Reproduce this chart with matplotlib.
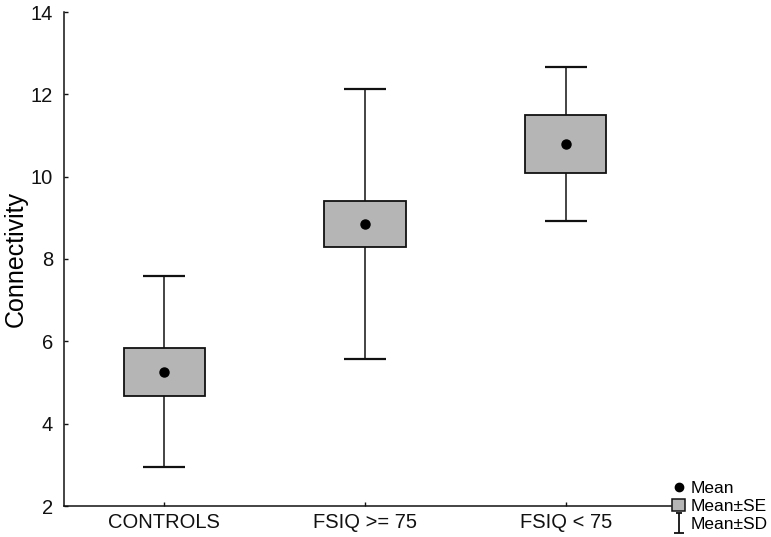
import numpy as np
import matplotlib
matplotlib.use("Agg")
import matplotlib.pyplot as plt
from matplotlib.lines import Line2D
from matplotlib.patches import Patch
from matplotlib.path import Path

plt.rcParams["font.family"] = ["Liberation Sans", "DejaVu Sans"]

groups = ["CONTROLS", "FSIQ >= 75", "FSIQ < 75"]
means = [5.26, 8.85, 10.79]
se = [0.58, 0.57, 0.71]
sd = [2.32, 3.29, 1.87]

box_color = "#b5b5b5"
x = np.arange(1, len(groups) + 1)
means = np.array(means)
se = np.array(se)

fig = plt.figure(figsize=(7.71, 5.37), dpi=100)
ax = fig.add_axes([64 / 771, 1 - 506 / 537, (671 - 64) / 771, (506 - 12) / 537])

# whiskers (mean +- SD), drawn under the boxes
ax.errorbar(x, means, yerr=sd, fmt="none", ecolor="#111111", elinewidth=1.1,
            capsize=14.8, capthick=1.6, zorder=1)
# boxes (mean +- SE)
ax.bar(x, 2 * se, bottom=means - se, width=0.405, color=box_color,
       edgecolor="#111111", linewidth=1.3, zorder=2)
# mean points
ax.plot(x, means, "o", color="black", markersize=6.5, zorder=3)

ax.set_xlim(0.5, 3.525)
ax.set_ylim(2, 14)
ax.set_yticks(range(2, 15, 2))
ax.set_xticks(x)
ax.set_xticklabels(groups)
ax.tick_params(direction="in", length=3, width=1, labelsize=14.5, colors="#111111")
ax.tick_params(axis="x", pad=5)
ax.tick_params(axis="y", pad=8)
ax.set_ylabel("Connectivity", fontsize=18, labelpad=2)
for s in ["top", "right"]:
    ax.spines[s].set_visible(False)
for s in ["left", "bottom"]:
    ax.spines[s].set_linewidth(1.1)
    ax.spines[s].set_color("#111111")

# I-beam marker for the SD legend entry
ibeam = Path([(-0.35, 1), (0.35, 1), (0, 1), (0, -1), (-0.5, -1), (0.5, -1)],
             [Path.MOVETO, Path.LINETO, Path.MOVETO, Path.LINETO, Path.MOVETO, Path.LINETO])
handles = [
    Line2D([], [], marker="o", color="black", linestyle="none", markersize=6),
    Patch(facecolor=box_color, edgecolor="#111111", linewidth=1.1),
    Line2D([], [], marker=ibeam, color="#111111", linestyle="none", markersize=14,
           markeredgewidth=1.3),
]
fig.legend(handles, ["Mean", "Mean±SE", "Mean±SD"], loc="lower left",
           bbox_to_anchor=(672 / 771, 5 / 537), frameon=False, fontsize=12.5,
           handlelength=0.75, handleheight=0.75, handletextpad=0.35,
           labelspacing=0.15, borderpad=0, borderaxespad=0)

fig.savefig("out.png", dpi=100)
